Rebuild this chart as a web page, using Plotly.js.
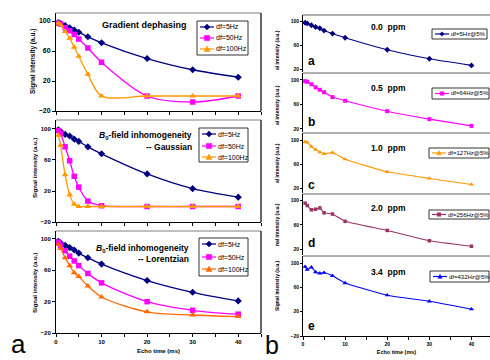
<!DOCTYPE html>
<html><head><meta charset="utf-8">
<script src="https://cdn.plot.ly/plotly-3.0.1.min.js"></script>
<style>html,body{margin:0;padding:0;background:#fff}#chart{width:490px;height:360px}</style>
</head><body><div id="chart"></div>
<script>
// ---------- data ----------
const echoTime = [0.5, 1, 2, 3, 4, 5, 7, 10, 20, 30, 40];
const xTicks = [0, 10, 20, 30, 40];
const yTicksLeft = [-20, 20, 60, 100];
const yTicksRight = [20, 60, 100];
const yTicksRightLast = [-20, 20, 60, 100];

const dfLabels = ['df=5Hz', 'df=50Hz', 'df=100Hz'];
const gradient5 = [98, 97, 94, 91, 88, 85, 79, 71, 50, 35, 25];
const gradient50 = [97, 96, 91, 87, 82, 76, 64, 45, 0, -8, 0];
const gradient100 = [97, 95, 86, 77, 65, 53, 29, 0, 0, 0, 0];
const gaussian5 = [99, 97, 93, 91, 87, 84, 77, 68, 42, 23, 12];
const gaussian50 = [98, 94, 77, 59, 39, 25, 7, 1, 0, 0, 0];
const gaussian100 = [92, 79, 41, 15, 3, 0, 0, 0, 0, 0, 0];
const lorentzian5 = [97, 95, 92, 89, 86, 82, 76, 68, 47, 32, 21];
const lorentzian50 = [96, 92, 85, 78, 72, 66, 56, 44, 20, 9, 4];
const lorentzian100 = [93, 88, 76, 66, 57, 52, 40, 26, 7, 3, 1];

const ppmLabels = ['0.0  ppm', '0.5  ppm', '1.0  ppm', '2.0  ppm', '3.4  ppm'];
const ppmLegend = ['df=5Hz@5%', 'df=64Hz@5%', 'df=127Hz@5%', 'df=256Hz@5%', 'df=432Hz@5%'];
const panelLetters = ['a', 'b', 'c', 'd', 'e'];
const ppm00 = [97, 96, 93, 90, 88, 84, 79, 72, 52, 37, 26];
const ppm05 = [98, 97, 93, 88, 84, 80, 72, 66, 49, 36, 25];
const ppm10 = [97, 96, 89, 84, 80, 77, 79, 68, 47, 36, 26];
const ppm20 = [96, 92, 85, 86, 88, 80, 78, 66, 51, 34, 25];
const ppm34 = [94, 89, 93, 85, 83, 84, 79, 67, 47, 37, 24];

// ---------- layout helpers ----------
const W = 490, H = 360;
const fx = v => v / W;
const fy = v => 1 - v / H;
const FONT = 'Liberation Sans, Arial, sans-serif';
const symbolPath = {
  'diamond': 'M-3,0L0,3L3,0L0,-3Z',
  'square': 'M-2.6,-2.6L2.6,-2.6L2.6,2.6L-2.6,2.6Z',
  'triangle-up': 'M-3,-2.4L3,-2.4L0,3Z'
};
const smallPath = {
  'diamond': 'M-2.2,0L0,2.2L2.2,0L0,-2.2Z',
  'square': 'M-1.8,-1.8L1.8,-1.8L1.8,1.8L-1.8,1.8Z',
  'triangle-up': 'M-2.2,-1.8L2.2,-1.8L0,2.2Z'
};

const traces = [];
const shapes = [];
const annotations = [];
const layout = {
  width: W, height: H, margin: {l: 0, r: 0, t: 0, b: 0},
  paper_bgcolor: '#fff', plot_bgcolor: '#fff', showlegend: false,
  font: {family: FONT, color: '#000'}
};

function note(px, py, text, font, extra) {
  annotations.push(Object.assign({xref: 'paper', yref: 'paper', x: fx(px), y: fy(py),
    xanchor: 'center', yanchor: 'middle', showarrow: false, borderpad: 0, text: text, font: font}, extra || {}));
}

function addLegend(box, rows, labels, colors, symbols, paths, fontSize) {
  shapes.push({type: 'rect', xref: 'paper', yref: 'paper', x0: fx(box[0]), x1: fx(box[1]), y0: fy(box[3]), y1: fy(box[2]),
    line: {color: '#000', width: 0.8}, fillcolor: '#fff', layer: 'above'});
  labels.forEach((lab, i) => {
    const yy = fy(rows[i]);
    shapes.push({type: 'line', xref: 'paper', yref: 'paper', x0: fx(box[0] + 3), x1: fx(box[0] + 17), y0: yy, y1: yy,
      line: {color: colors[i], width: 1.2}, layer: 'above'});
    shapes.push({type: 'path', xref: 'paper', yref: 'paper', xsizemode: 'pixel', ysizemode: 'pixel',
      xanchor: fx(box[0] + 10), yanchor: yy, path: paths[symbols[i]],
      fillcolor: colors[i], line: {color: colors[i], width: 0.5}, layer: 'above'});
    note(box[0] + 18, rows[i], lab, {size: fontSize, family: FONT, color: '#000'}, {xanchor: 'left'});
  });
}

// ---------- left column ----------
const leftPanels = [
  {series: [gradient5, gradient50, gradient100], colors: ['#000080', '#FF00FF', '#FF9900'],
   top: 13, bottom: 111, yr: [-20, 110.7], tick: 7, showX: false,
   box: [197, 248, 21, 55], rows: [27, 38, 49], tx: 33, ty: 62, ts: 6.5},
  {series: [gaussian5, gaussian50, gaussian100], colors: ['#000080', '#FF00FF', '#FF9900'],
   top: 120, bottom: 222, yr: [-20, 111.6], tick: 6, showX: false,
   box: [199, 248, 128, 162], rows: [134, 146, 157], tx: 35, ty: 168, ts: 6},
  {series: [lorentzian5, lorentzian50, lorentzian100], colors: ['#000080', '#FF00FF', '#FF6A00'],
   top: 231, bottom: 333, yr: [-20, 110.2], tick: 6, showX: true,
   box: [199, 248, 238, 276], rows: [244, 257, 269], tx: 35, ty: 283, ts: 6}
];
const leftSymbols = ['diamond', 'square', 'triangle-up'];
const leftSizes = [5.5, 5.5, 6];

leftPanels.forEach((p, i) => {
  const n = i + 1;
  const xa = n === 1 ? 'x' : 'x' + n, ya = n === 1 ? 'y' : 'y' + n;
  p.series.forEach((s, k) => {
    traces.push({x: echoTime, y: s, xaxis: xa, yaxis: ya, type: 'scatter', mode: 'lines+markers',
      name: dfLabels[k], line: {color: p.colors[k], width: 1.3, shape: 'spline', smoothing: 0.9},
      marker: {symbol: leftSymbols[k], size: leftSizes[k], color: p.colors[k]}, cliponaxis: false});
  });
  const xaxis = {
    domain: [fx(56), fx(261)], range: [0, 45], anchor: ya, showgrid: false, zeroline: false,
    showline: true, linecolor: '#000', linewidth: 1, ticks: 'outside', ticklen: 3, tickcolor: '#000',
    tickmode: 'array', tickvals: xTicks, showticklabels: p.showX,
    minor: {ticks: 'outside', dtick: 5, tick0: 0, ticklen: 3, tickcolor: '#000'},
    tickfont: {size: 6, family: FONT, weight: 'bold'}
  };
  if (p.showX) xaxis.title = {text: 'Echo time (ms)', font: {size: 6, family: FONT, weight: 'bold'}, standoff: 4};
  layout['xaxis' + (n === 1 ? '' : n)] = xaxis;
  layout['yaxis' + (n === 1 ? '' : n)] = {
    domain: [fy(p.bottom), fy(p.top)], range: p.yr, anchor: xa, showgrid: false, zeroline: false,
    showline: true, linecolor: '#000', linewidth: 1, ticks: 'outside', ticklen: 3, tickcolor: '#000',
    tickmode: 'array', tickvals: yTicksLeft, tickfont: {size: p.tick, family: FONT, weight: 'bold'}
  };
  // frame: gray top, black right
  shapes.push({type: 'line', xref: xa + ' domain', yref: ya + ' domain', x0: 0, x1: 1, y0: 1, y1: 1,
    line: {color: '#808080', width: 1}});
  shapes.push({type: 'line', xref: xa + ' domain', yref: ya + ' domain', x0: 1, x1: 1, y0: 0, y1: 1,
    line: {color: '#000', width: 1.2}});
  note(p.tx, p.ty, 'Signal intensity (a.u.)', {size: p.ts, family: FONT, weight: 'bold'}, {textangle: -90});
  addLegend(p.box, p.rows, dfLabels, p.colors, leftSymbols, symbolPath, 7);
});

note(144, 25, '<b>Gradient dephasing</b>', {size: 9, family: FONT});
note(193, 135, '<b><i>B</i><sub>0</sub>-field inhomogeneity</b>', {size: 8.5, family: FONT}, {xanchor: 'right'});
note(193, 147, '<b>-- Gaussian</b>', {size: 8.5, family: FONT}, {xanchor: 'right'});
note(190, 248, '<b><i>B</i><sub>0</sub>-field inhomogeneity</b>', {size: 8.5, family: FONT}, {xanchor: 'right'});
note(190, 259, '<b>-- Lorentzian</b>', {size: 8.5, family: FONT}, {xanchor: 'right'});
note(18, 359.5, 'a', {size: 26, family: FONT}, {yanchor: 'bottom'});
note(272, 359.5, 'b', {size: 25, family: FONT}, {yanchor: 'bottom'});

// ---------- right column ----------
const rightPanels = [
  {y: ppm00, color: '#000080', symbol: 'diamond', top: 15, bottom: 72, yr: [15, 110],
   box: [432, 487, 29, 39], ppmY: 27, letterY: 61, title: 'al intensity (a.u.)', titleY: 50},
  {y: ppm05, color: '#FF00FF', symbol: 'square', top: 73, bottom: 132, yr: [15, 111.4],
   box: [432, 489, 88, 99], ppmY: 88, letterY: 122, title: 'al intensity (a.u.)', titleY: 105},
  {y: ppm10, color: '#FF9900', symbol: 'triangle-up', top: 133, bottom: 193, yr: [11.7, 111.7],
   box: [429, 489, 148, 158], ppmY: 148, letterY: 185, title: 'al intensity (a.u.)', titleY: 163},
  {y: ppm20, color: '#993366', symbol: 'square', top: 194, bottom: 255, yr: [10.6, 111],
   box: [429, 489, 210, 219], ppmY: 208, letterY: 243, title: 'nal intensity (a.u.)', titleY: 225},
  {y: ppm34, color: '#0000FF', symbol: 'triangle-up', top: 256, bottom: 336, yr: [-20, 111.5],
   box: [430, 489, 271, 282], ppmY: 272, letterY: 326, title: 'Signal intensity (a.u.)', titleY: 286}
];

rightPanels.forEach((p, i) => {
  const n = i + 4;
  const xa = 'x' + n, ya = 'y' + n;
  const last = i === rightPanels.length - 1;
  traces.push({x: echoTime, y: p.y, xaxis: xa, yaxis: ya, type: 'scatter', mode: 'lines+markers',
    name: ppmLegend[i], line: {color: p.color, width: 1.1, shape: 'spline', smoothing: 0.4},
    marker: {symbol: p.symbol, size: p.symbol === 'square' ? (i === 3 ? 3.5 : 4) : 4.5, color: p.color}, cliponaxis: false});
  const xaxis = {
    domain: [fx(303), 1], range: [0, 44.4], anchor: ya, showgrid: false, zeroline: false,
    showline: last, linecolor: '#000', linewidth: 1, ticks: last ? 'outside' : '', ticklen: 2.5, tickcolor: '#000',
    tickmode: 'array', tickvals: xTicks, showticklabels: last,
    tickfont: {size: 5, family: FONT, weight: 'bold'}
  };
  if (last) {
    xaxis.minor = {ticks: 'outside', dtick: 5, tick0: 0, ticklen: 2.5, tickcolor: '#000'};
    xaxis.title = {text: 'Echo time (ms)', font: {size: 5.5, family: FONT, weight: 'bold'}, standoff: 4};
  }
  layout['xaxis' + n] = xaxis;
  layout['yaxis' + n] = {
    domain: [fy(p.bottom), fy(p.top)], range: p.yr, anchor: xa, showgrid: false, zeroline: false,
    showline: true, linecolor: '#000', linewidth: 1, ticks: 'outside', ticklen: 2, tickcolor: '#000',
    tickmode: 'array', tickvals: last ? yTicksRightLast : yTicksRight,
    tickfont: {size: 5, family: FONT, weight: 'bold'}
  };
  shapes.push({type: 'line', xref: xa + ' domain', yref: ya + ' domain', x0: 0, x1: 1, y0: 1, y1: 1,
    line: {color: '#606060', width: 1}});
  note(277, p.titleY, p.title, {size: 5, family: FONT, weight: 'bold'}, {textangle: -90});
  note(388, p.ppmY, '<b>' + ppmLabels[i] + '</b>', {size: 8.5, family: FONT});
  note(311, p.letterY, '<b>' + panelLetters[i] + '</b>', {size: 12, family: FONT});
  addLegend(p.box, [(p.box[2] + p.box[3]) / 2], [ppmLegend[i]], [p.color], [p.symbol], smallPath, 6);
});

layout.shapes = shapes;
layout.annotations = annotations;
Plotly.newPlot('chart', traces, layout, {staticPlot: true, displayModeBar: false});
</script>
</body></html>
